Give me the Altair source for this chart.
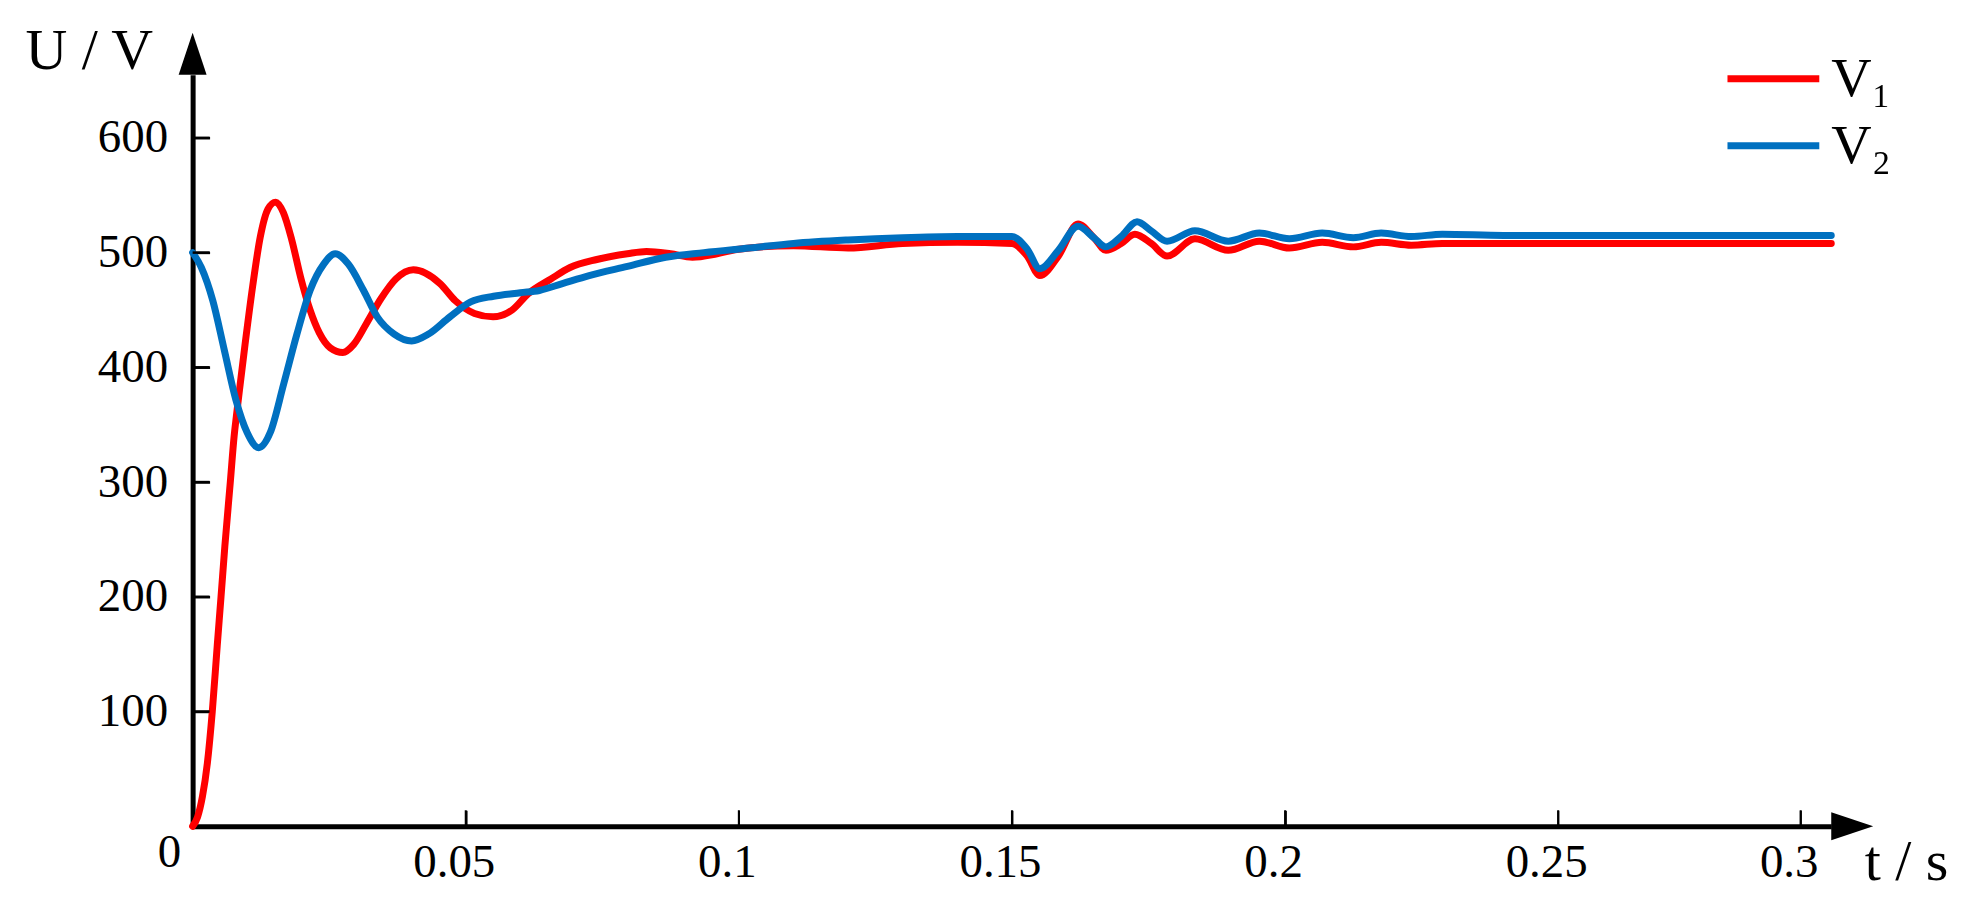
import altair as alt
import pandas as pd

# ---------------- data ----------------
t_v1 = [0.0, 0.0009, 0.0018, 0.0027, 0.0036, 0.0045, 0.0052, 0.0059, 0.0069, 0.0076,
        0.0080, 0.0087, 0.0096, 0.0110, 0.0124, 0.0138, 0.0152, 0.0166, 0.0181, 0.0198,
        0.0215, 0.0232, 0.0252, 0.0275, 0.0295, 0.0318, 0.0345, 0.0372, 0.0404, 0.0453,
        0.0481, 0.0516, 0.0550, 0.0585, 0.0614, 0.0656, 0.0691, 0.0740, 0.0796, 0.0831,
        0.0875, 0.0915, 0.0960, 0.1000, 0.1100, 0.1200, 0.1300, 0.1400, 0.1500, 0.1528,
        0.1551, 0.1585, 0.1621, 0.1650, 0.1672, 0.1700, 0.1725, 0.1755, 0.1784, 0.1835,
        0.1896, 0.1953, 0.2008, 0.2068, 0.2125, 0.2176, 0.2231, 0.2288, 0.2400, 0.2600,
        0.2800, 0.3000]
v1 = [0, 8, 26, 55, 100, 157, 200, 244, 300, 340,
      357, 385, 420, 471, 514, 538, 544, 535, 512, 478,
      450, 430, 417, 413, 420, 438, 460, 477, 485, 473,
      458, 447, 444, 450, 464, 477, 487, 494, 499, 501,
      499, 496, 499, 503, 506, 504, 508, 509, 508, 497,
      480, 497, 525, 513, 502, 508, 516, 508, 497, 512,
      502, 510, 504, 509, 505, 509, 506.5, 508, 508, 508,
      508, 508]

t_v2 = [0.0, 0.0016, 0.0037, 0.0058, 0.0079, 0.0100, 0.0121, 0.0142, 0.0167, 0.0191,
        0.0215, 0.0240, 0.0261, 0.0285, 0.0313, 0.0338, 0.0369, 0.0401, 0.0432, 0.0471,
        0.0509, 0.0551, 0.0600, 0.0635, 0.0677, 0.0726, 0.0796, 0.0866, 0.0936, 0.1019,
        0.1100, 0.1200, 0.1300, 0.1400, 0.1500, 0.1528, 0.1551, 0.1585, 0.1621, 0.1650,
        0.1672, 0.1700, 0.1729, 0.1755, 0.1784, 0.1835, 0.1896, 0.1953, 0.2008, 0.2068,
        0.2125, 0.2176, 0.2231, 0.2288, 0.2400, 0.2600, 0.2800, 0.3000]
v2 = [500, 487, 458, 415, 372, 343, 330, 343, 386, 429,
      467, 490, 499, 490, 467, 444, 429, 423, 429, 444,
      457, 462, 465, 467, 473, 480, 488, 496, 500, 504,
      508, 511, 513, 514, 514, 503, 486, 502, 523, 513,
      505, 514, 527, 519, 510, 519, 510, 517, 512, 517,
      513, 517, 514, 516, 515, 515, 515, 515]

series_labels = ["V\u2081", "V\u2082"]
series_colors = ["#FF0000", "#0070C0"]

x_tick_values = [0.05, 0.1, 0.15, 0.2, 0.25, 0.2944]
y_tick_values = [100, 200, 300, 400, 500, 600]

x_title = "t / s"
y_title = "U / V"

# ---------------- layout ----------------
W, H = 1642, 753
X_MAX, Y_MAX = 0.3, 655
FONT = "Liberation Serif"

df1 = pd.DataFrame({"t": t_v1, "v": v1, "s": series_labels[0]})
df2 = pd.DataFrame({"t": t_v2, "v": v2, "s": series_labels[1]})

x_scale = alt.Scale(domain=[0, X_MAX], nice=False, zero=False)
y_scale = alt.Scale(domain=[0, Y_MAX], nice=False)
color_scale = alt.Scale(domain=series_labels, range=series_colors)

# main axes: domain line, labels, titles
x_axis = alt.Axis(
    values=[0] + x_tick_values,
    labelExpr="datum.value > 0.29 ? '0.3' : format(datum.value, '~g')",
    grid=False, ticks=True, tickSize=0, tickOpacity=0,
    domain=True, domainColor="black", domainWidth=5,
    labelFont=FONT, labelFontSize=47, labelColor="black",
    labelAlign={"condition": {"test": "datum.value == 0", "value": "right"}, "value": "center"},
    labelPadding={"condition": {"test": "datum.value == 0", "value": 3}, "value": 13},
    labelBaseline="top", labelOffset=-12, labelFlush=False, labelOverlap=False,
    title=x_title, titleFont=FONT, titleFontSize=58, titleFontWeight="normal",
    titleColor="black", titleAlign="left", titleBaseline="alphabetic",
    titleX=1675, titleY=53, titleAngle=0,
)
y_axis = alt.Axis(
    values=y_tick_values, format="d",
    grid=False, ticks=True, tickSize=0, tickOpacity=0,
    domain=True, domainColor="black", domainWidth=5,
    labelFont=FONT, labelFontSize=47, labelColor="black",
    labelPadding=25, labelFlush=False, labelOverlap=False,
    title=y_title, titleFont=FONT, titleFontSize=58, titleFontWeight="normal",
    titleColor="black", titleAlign="left", titleBaseline="alphabetic",
    titleX=-168, titleY=-6, titleAngle=0,
)

# tick-only axes moved onto the opposite edge so that their ticks point inward
x_tick_axis = alt.Axis(
    orient="top", offset=-H, values=x_tick_values, labels=False, domain=False,
    grid=False, ticks=True, tickSize=16, tickWidth=2, tickColor="black", title=None,
)
y_tick_axis = alt.Axis(
    orient="right", offset=-W, values=y_tick_values, labels=False, domain=False,
    grid=False, ticks=True, tickSize=17, tickWidth=2.5, tickColor="black", title=None,
)

legend = alt.Legend(
    title=None, orient="none", legendX=1556, legendY=-24,
    symbolType="M-2,0L2,0", symbolSize=2116, symbolStrokeWidth=7,
    symbolFillColor="transparent",
    labelFont=FONT, labelFontSize=56, labelColor="black", labelOffset=30,
    rowPadding=11, padding=0,
)

color_enc = alt.Color("s:N", scale=color_scale, legend=legend)

line_red = alt.Chart(df1).mark_line(
    strokeWidth=7, strokeCap="round", strokeJoin="round", interpolate="monotone"
).encode(
    x=alt.X("t:Q", scale=x_scale, axis=x_axis),
    y=alt.Y("v:Q", scale=y_scale, axis=y_axis),
    color=color_enc,
)

line_blue = alt.Chart(df2).mark_line(
    strokeWidth=7, strokeCap="round", strokeJoin="round", interpolate="monotone"
).encode(
    x=alt.X("t:Q", scale=x_scale, axis=x_axis),
    y=alt.Y("v:Q", scale=y_scale, axis=y_axis),
    color=color_enc,
)

lines = alt.layer(line_red, line_blue)

# inward tick marks (also drawn as marks, at the same places as the tick axes)
x_ticks = alt.Chart(pd.DataFrame({"t": x_tick_values})).mark_tick(
    color="black", thickness=2, size=16, orient="vertical", opacity=1
).encode(x=alt.X("t:Q", scale=x_scale, axis=x_tick_axis), y=alt.value(H - 8))

y_ticks = alt.Chart(pd.DataFrame({"v": y_tick_values})).mark_tick(
    color="black", thickness=2.5, size=17, orient="horizontal", opacity=1
).encode(y=alt.Y("v:Q", scale=y_scale, axis=y_tick_axis), x=alt.value(8.5))

ticks = alt.layer(x_ticks, y_ticks)

y_arrow = alt.Chart(pd.DataFrame({"a": [0]})).mark_point(
    shape="M0,-1L0.667,1L-0.667,1Z", size=1764, filled=True,
    color="black", opacity=1, strokeWidth=0
).encode(x=alt.value(0), y=alt.value(-21))

x_arrow = alt.Chart(pd.DataFrame({"a": [0]})).mark_point(
    shape="M1,0L-1,0.667L-1,-0.667Z", size=1764, filled=True,
    color="black", opacity=1, strokeWidth=0
).encode(x=alt.value(W + 21), y=alt.value(H))

chart = alt.layer(
    lines, ticks, y_arrow, x_arrow
).resolve_axis(
    x="independent", y="independent"
).properties(
    width=W, height=H,
    autosize=alt.AutoSizeParams(type="none"),
    padding={"left": 185, "top": 66, "right": 130, "bottom": 80},
    background="white",
).configure_view(stroke=None)

chart.save("out.html", embed_options={"renderer": "svg", "actions": False})
